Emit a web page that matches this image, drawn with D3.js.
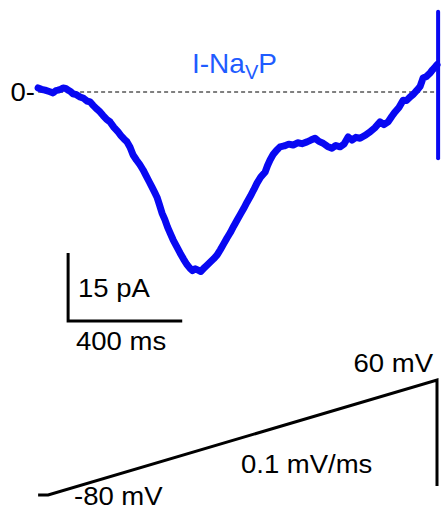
<!DOCTYPE html>
<html>
<head>
<meta charset="utf-8">
<script src="https://cdn.jsdelivr.net/npm/d3@7/dist/d3.min.js"></script>
<style>
  html, body { margin: 0; padding: 0; background: #fff; }
  svg { display: block; }
  text { font-family: "Liberation Sans", Arial, Helvetica, sans-serif; }
</style>
</head>
<body>
<svg id="chart" width="442" height="512"></svg>
<script>
// Persistent Na current recorded during a slow voltage ramp
const timeMs = [
  -36, -24, -11, 4, 18, 28, 36, 46, 54, 63, 72, 81, 90, 102, 115, 128, 140, 151,
  163, 176, 187, 198, 210, 223, 237, 252, 262, 274, 284, 295, 306, 318, 330, 342,
  353, 364, 374, 384, 392, 401, 410, 420, 430, 439, 450, 462, 475, 487, 499, 511,
  520, 530, 540, 550, 560, 572, 584, 596, 608, 620, 632, 644, 656, 668, 680, 692,
  704, 716, 728, 740, 752, 766, 781, 790, 799, 810, 822, 835, 850, 866, 882, 898,
  914, 932, 946, 961, 975, 990, 1006, 1022, 1036, 1051, 1065, 1080, 1094, 1108,
  1123, 1140, 1159, 1176, 1195, 1209, 1224, 1237, 1249, 1263, 1278, 1290, 1303,
  1315, 1328, 1339, 1350, 1362, 1375, 1384, 1393, 1400
];
const currentPA = [
  0.9, 0.6, 0.4, 0.1, -0.2, 0.3, 0.4, 0.6, 0.9, 0.8, 0.4, 0.1, -0.4, -0.6, -1.1, -1.4, -2.0, -2.2,
  -3.0, -3.8, -4.4, -5.2, -6.0, -6.6, -7.8, -8.8, -9.6, -10.4, -11.0, -12.2, -13.9, -15.0, -16.0, -17.2,
  -18.5, -19.8, -21.0, -22.2, -23.2, -24.9, -26.7, -28.1, -29.8, -31.1, -32.6, -34.0, -35.5, -36.8, -38.0, -38.9,
  -39.4, -39.0, -39.3, -39.6, -38.9, -38.2, -37.5, -36.8, -36.0, -34.8, -33.5, -32.2, -31.0, -29.6, -28.3, -27.0,
  -25.7, -24.3, -23.0, -21.6, -20.1, -18.7, -17.7, -16.2, -15.0, -13.8, -12.9, -12.1, -11.9, -11.5, -11.7, -11.2,
  -11.4, -11.0, -10.6, -10.2, -10.9, -11.3, -12.0, -12.4, -11.8, -12.1, -11.5, -9.9, -10.6, -10.0,
  -10.2, -9.6, -8.8, -7.9, -6.6, -7.2, -6.6, -5.4, -4.4, -3.4, -1.8, -1.9, -1.1,
  -0.5, 0.4, 1.2, 3.1, 3.4, 4.2, 4.9, 5.5, 6.0
];
// Capacitive transient at the end of the ramp
const transientTime = [1404, 1404];
const transientPA = [17.7, -14.6];

// Command voltage protocol
const rampTime = [-36, 0, 1400, 1400];
const rampMV = [-80, -80, 60, -69];

// Reference level and scale bars
const zeroLevelPA = 0;
const scaleBarPA = 15;
const scaleBarMs = 400;
const scaleBarOrigin = { t: 72, pA: -50.5 };

const svg = d3.select("#chart");

const x = d3.scaleLinear().domain([-40, 1400]).range([37, 437]);
const yI = d3.scaleLinear().domain([0, 15]).range([92, 24]);
const yV = d3.scaleLinear().domain([-80, 60]).range([495, 380]);

const stretch = 1.1;
function label(txt, px, py, size, anchor, fill) {
  return svg.append("text")
    .attr("transform", `translate(${px},${py}) scale(${stretch},1)`)
    .attr("font-size", size)
    .attr("fill", fill || "#000")
    .attr("text-anchor", anchor || "start")
    .text(txt);
}

// zero-current dashed line
svg.append("line")
  .attr("x1", x(-36)).attr("x2", 440)
  .attr("y1", yI(zeroLevelPA)).attr("y2", yI(zeroLevelPA))
  .attr("stroke", "#000").attr("stroke-width", 1)
  .attr("stroke-dasharray", "4,3");

label("0-", 35, yI(zeroLevelPA) + 9, 25, "end");

// current trace
const currentLine = d3.line()
  .x((d, i) => x(timeMs[i]))
  .y(d => yI(d))
  .curve(d3.curveLinear);

svg.append("path")
  .attr("d", currentLine(currentPA))
  .attr("fill", "none")
  .attr("stroke", "#0808f2")
  .attr("stroke-width", 7)
  .attr("stroke-linejoin", "round")
  .attr("stroke-linecap", "round");

svg.append("path")
  .attr("d", d3.line().x((d, i) => x(transientTime[i])).y(d => yI(d))(transientPA))
  .attr("fill", "none")
  .attr("stroke", "#0808f2")
  .attr("stroke-width", 4)
  .attr("stroke-linecap", "round");

// trace label with subscript
const lab = svg.append("text")
  .attr("transform", `translate(192,73)`)
  .attr("font-size", 28)
  .attr("fill", "#1f5cff");
lab.append("tspan").text("I-Na");
lab.append("tspan").attr("font-size", 20).attr("dy", 6).text("V");
lab.append("tspan").attr("dy", -6).text("P");

// scale bars
const sbX0 = x(scaleBarOrigin.t);
const sbY0 = yI(scaleBarOrigin.pA);
svg.append("path")
  .attr("d", `M${sbX0},${yI(scaleBarOrigin.pA + scaleBarPA)}V${sbY0}H${x(scaleBarOrigin.t + scaleBarMs) + 3}`)
  .attr("fill", "none")
  .attr("stroke", "#000")
  .attr("stroke-width", 3);

label("15 pA", 78, 297, 25);
label("400 ms", 76, 350, 25);

// voltage command
svg.append("path")
  .attr("d", d3.line().x((d, i) => x(rampTime[i])).y(d => yV(d))(rampMV))
  .attr("fill", "none")
  .attr("stroke", "#000")
  .attr("stroke-width", 3)
  .attr("stroke-linejoin", "miter");

label("60 mV", 433, 372, 25, "end");
label("-80 mV", 74, 505, 25);
label("0.1 mV/ms", 241, 473, 25);
</script>
</body>
</html>
